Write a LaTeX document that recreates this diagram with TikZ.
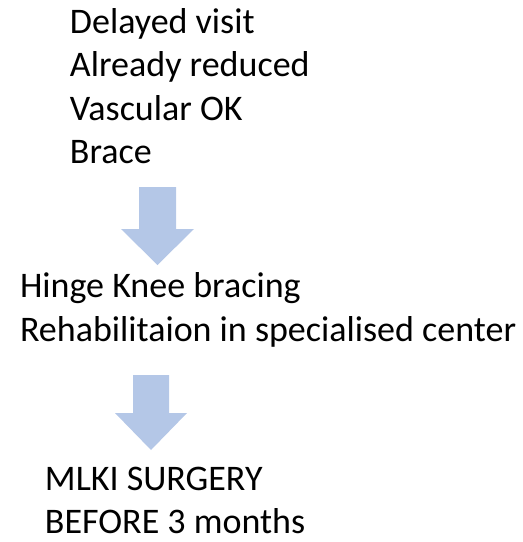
\documentclass[tikz,border=0pt]{standalone}
\usepackage{fontspec}
\setmainfont{Carlito}
\definecolor{arrowblue}{HTML}{B4C7E7}
\begin{document}
\begin{tikzpicture}[x=1pt,y=-1pt,
  txt/.style={anchor=base west,inner sep=0pt,outer sep=0pt,font=\fontsize{36}{43}\selectfont},
  blockarrow/.style={fill=arrowblue,draw=none}]
\useasboundingbox (0,0) rectangle (523,542);
% block 1
\node[txt] (l1) at (70,33) {Delayed visit};
\node[txt] (l2) at (70,76) {Already reduced};
\node[txt] (l3) at (70,120) {Vascular OK};
\node[txt] (l4) at (70,163) {Brace};
% arrow 1
\fill[blockarrow] (139,187) -- (176,187) -- (176,229) -- (194,229) -- (157.5,265) -- (121,229) -- (139,229) -- cycle;
% block 2
\node[txt] (m1) at (20,297) {Hinge Knee bracing};
\node[txt] (m2) at (20,341) {Rehabilitaion in specialised center};
% arrow 2
\fill[blockarrow] (133,375) -- (169,375) -- (169,413) -- (187,413) -- (151,450) -- (115,413) -- (133,413) -- cycle;
% block 3
\node[txt] (n1) at (45,490) {MLKI SURGERY};
\node[txt] (n2) at (45,533) {BEFORE 3 months};
\end{tikzpicture}
\end{document}
